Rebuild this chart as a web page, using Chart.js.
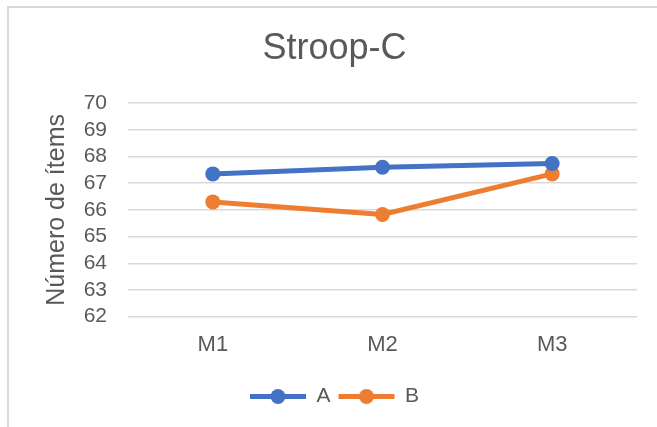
<!DOCTYPE html>
<html>
<head>
<meta charset="utf-8">
<script src="https://cdn.jsdelivr.net/npm/chart.js@4/dist/chart.umd.min.js"></script>
<style>
  body { margin: 0; background: #fff; }
  #frame { position: absolute; left: 7px; top: 6px; width: 660px; height: 430px;
           border-left: 2px solid #d9d9d9; border-top: 2px solid #d9d9d9; }
  #wrap { position: absolute; left: 0; top: 0; width: 657px; height: 427px; }
</style>
</head>
<body>
<div id="frame"></div>
<div id="wrap"><canvas id="lineChart"></canvas></div>
<script>
const categories = ["M1", "M2", "M3"];
const seriesA = [67.35, 67.6, 67.74];
const seriesB = [66.3, 65.83, 67.35];
const yTicks = [62, 63, 64, 65, 66, 67, 68, 69, 70];

const TEXT = "#595959";
const BLUE = "#4472C4";
const ORANGE = "#ED7D31";
const FONT = "Liberation Sans, Arial";

// legend in Excel style: a line with a dot on it
const legendDots = {
  id: "legendDots",
  afterDraw(chart) {
    const lg = chart.legend;
    if (!lg || !lg.legendHitBoxes) return;
    const ctx = chart.ctx;
    lg.legendHitBoxes.forEach((box, i) => {
      const color = chart.data.datasets[i].borderColor;
      const cx = box.left + lg.options.labels.boxWidth / 2;
      const cy = box.top + box.height / 2;
      ctx.save();
      ctx.fillStyle = color;
      ctx.beginPath();
      ctx.arc(cx, cy, 7.5, 0, Math.PI * 2);
      ctx.fill();
      ctx.restore();
    });
  }
};

document.addEventListener("DOMContentLoaded", () => {
  const ctx = document.getElementById("lineChart").getContext("2d");
  new Chart(ctx, {
    type: "line",
    data: {
      labels: categories,
      datasets: [
        { label: "A", data: seriesA, borderColor: BLUE, backgroundColor: BLUE,
          borderWidth: 5, pointRadius: 7.5, pointHoverRadius: 7.5, pointBorderWidth: 0 },
        { label: "B", data: seriesB, borderColor: ORANGE, backgroundColor: ORANGE,
          borderWidth: 5, pointRadius: 7.5, pointHoverRadius: 7.5, pointBorderWidth: 0 }
      ]
    },
    options: {
      responsive: true,
      maintainAspectRatio: false,
      animation: false,
      layout: { padding: { left: 32, right: 20, top: 0, bottom: 10 } },
      plugins: {
        title: {
          display: true,
          text: "Stroop-C",
          color: TEXT,
          font: { family: FONT, size: 36, weight: "normal" },
          padding: { top: 27, bottom: 33 }
        },
        legend: {
          position: "bottom",
          labels: {
            color: TEXT,
            font: { family: FONT, size: 21 },
            boxWidth: 56,
            boxHeight: 5,
            padding: 8,
            generateLabels(chart) {
              return chart.data.datasets.map((ds, i) => ({
                text: ds.label,
                fillStyle: ds.borderColor,
                strokeStyle: ds.borderColor,
                lineWidth: 0,
                fontColor: TEXT,
                datasetIndex: i
              }));
            }
          }
        },
        tooltip: { enabled: false }
      },
      scales: {
        x: {
          offset: true,
          grid: { display: false, drawTicks: false },
          border: { display: false },
          afterFit(scale) { scale.height += 5; },
          ticks: { color: TEXT, font: { family: FONT, size: 22 }, padding: 15 }
        },
        y: {
          min: 62,
          max: 70,
          afterBuildTicks(scale) { scale.ticks = yTicks.map(v => ({ value: v })); },
          afterFit(scale) { scale.width = 96; },
          grid: { color: "#d9d9d9", lineWidth: 1.5, drawTicks: false },
          border: { display: false },
          ticks: { color: TEXT, font: { family: FONT, size: 21 }, padding: 21, autoSkip: false },
          title: {
            display: true,
            text: "Número de ítems",
            color: TEXT,
            font: { family: FONT, size: 25 },
            padding: { top: 10, bottom: 0 }
          }
        }
      }
    },
    plugins: [legendDots]
  });
});
</script>
</body>
</html>
